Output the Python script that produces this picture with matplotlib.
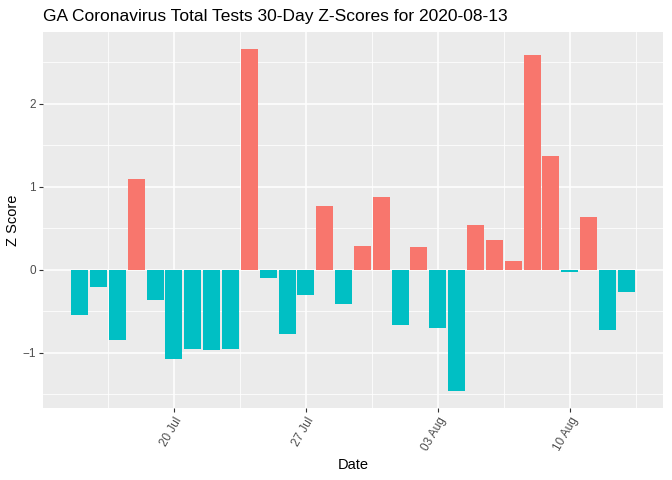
import datetime as dt
import matplotlib
matplotlib.use("Agg")
import matplotlib.pyplot as plt
import matplotlib.dates as mdates
import numpy as np

plt.rcParams['font.family'] = ['Liberation Sans', 'DejaVu Sans']

# data
start_date = dt.date(2020, 7, 15)
z_scores = [-0.55, -0.21, -0.85, 1.10, -0.36, -1.08, -0.96, -0.97, -0.96, 2.66,
            -0.10, -0.78, -0.30, 0.77, -0.41, 0.29, 0.88, -0.66, 0.27, -0.70,
            -1.46, 0.54, 0.36, 0.11, 2.59, 1.37, -0.03, 0.64, -0.73, -0.27]
dates = [start_date + dt.timedelta(days=i) for i in range(len(z_scores))]
title = "GA Coronavirus Total Tests 30-Day Z-Scores for 2020-08-13"

POS = '#F8766D'
NEG = '#00BFC4'

fig = plt.figure(figsize=(6.72, 4.8), dpi=100)
ax = fig.add_axes([43 / 672, 1 - 408 / 480, 620 / 672, 376 / 480])
ax.set_facecolor('#EBEBEB')

x = mdates.date2num(dates)
colors = [POS if z > 0 else NEG for z in z_scores]
ax.bar(x, z_scores, width=0.9, color=colors, zorder=3)

# ggplot-style 5% expansion
lo, hi = x[0] - 0.45, x[-1] + 0.45
pad = (hi - lo) * 0.05
ax.set_xlim(lo - pad, hi + pad)
ylo, yhi = min(z_scores), max(z_scores)
ypad = (yhi - ylo) * 0.05
ax.set_ylim(ylo - ypad, yhi + ypad)

major = mdates.date2num([dt.date(2020, 7, 20), dt.date(2020, 7, 27),
                         dt.date(2020, 8, 3), dt.date(2020, 8, 10)])
ax.set_xticks(major)
ax.set_xticklabels(['20 Jul', '27 Jul', '03 Aug', '10 Aug'])
ax.set_xticks(np.concatenate([[major[0] - 3.5], major + 3.5]), minor=True)
ax.set_yticks([-1, 0, 1, 2])
ax.set_yticks([-1.5, -0.5, 0.5, 1.5, 2.5], minor=True)

ax.grid(True, which='major', color='white', linewidth=1.1, zorder=1)
ax.grid(True, which='minor', color='white', linewidth=0.55, zorder=1)
for s in ax.spines.values():
    s.set_visible(False)

ax.tick_params(which='major', length=3, color='#333333', labelcolor='#4D4D4D',
               labelsize=8.5, pad=2)
ax.tick_params(which='minor', length=0)
for lab in ax.get_xticklabels():
    lab.set_rotation(60)
    lab.set_ha('right')
    lab.set_va('top')
    lab.set_rotation_mode('anchor')

ax.set_xlabel('Date', fontsize=10.5, labelpad=4)
ax.set_ylabel('Z Score', fontsize=10.5, labelpad=2)
fig.text(43 / 672, 1 - 16 / 480, title, fontsize=12.5, ha='left', va='center')

fig.savefig('out.png', dpi=100)
